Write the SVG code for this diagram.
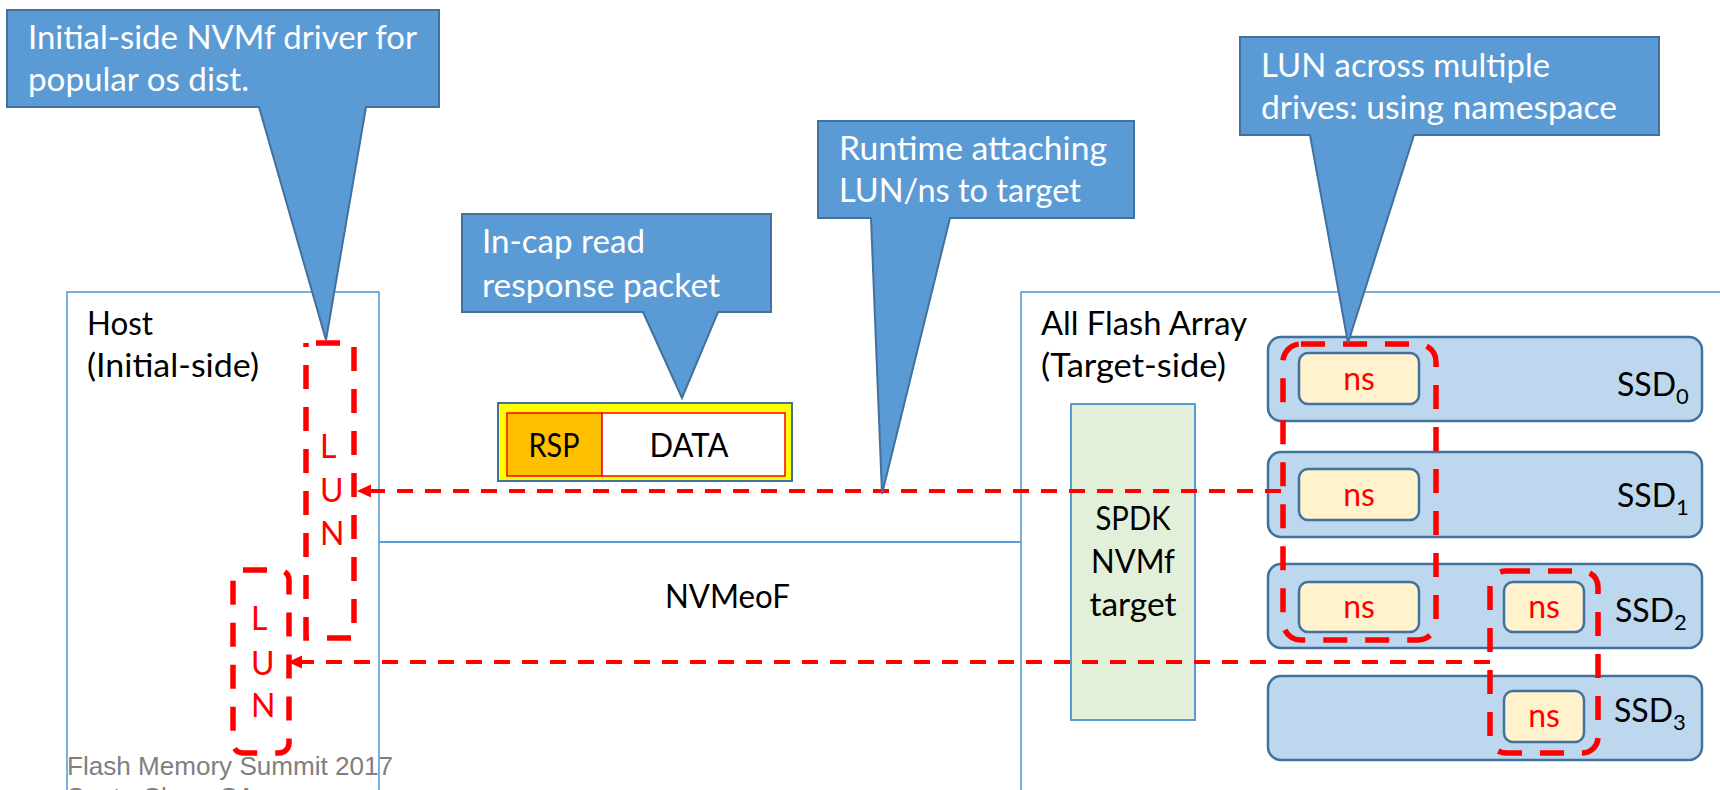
<svg xmlns="http://www.w3.org/2000/svg" width="1720" height="790" viewBox="0 0 1720 790">
  <style>
    text { font-family: "Lato", "Open Sans", sans-serif; font-size: 32px; }
    .call { fill: #5B9BD5; stroke: #41719C; stroke-width: 2; stroke-linejoin: miter; }
    .callt { fill: #FFFFFF; }
    .frame { fill: none; stroke: #5B9BD5; stroke-width: 1.6; }
    .lbl { fill: #000000; }
    .red { fill: #FF0000; }
    .ssd { fill: #BDD7EE; stroke: #41719C; stroke-width: 2.5; }
    .ns { fill: #FFF2CC; stroke: #41719C; stroke-width: 2.5; }
    .grp { fill: none; stroke: #FF0000; stroke-width: 5.5; stroke-dasharray: 24 18; }
    .conn { fill: none; stroke: #FF0000; stroke-width: 4; stroke-dasharray: 16 12; }
    .foot { font-family: "Liberation Sans", Arial, sans-serif; font-size: 26px; fill: #808080; }
    .mid { text-anchor: middle; }
  </style>
  <defs>
    <marker id="arrow" markerUnits="userSpaceOnUse" markerWidth="15" markerHeight="14" refX="14" refY="6.5" orient="auto">
      <path d="M0,0 L14,6.5 L0,13 Z" fill="#FF0000"/>
    </marker>
  </defs>

  <rect width="1720" height="790" fill="#FFFFFF"/>

  <!-- Host (initiator side) -->
  <g id="host">
    <rect class="frame" x="67" y="292" width="312" height="520"/>
    <text class="lbl" x="87" y="335" textLength="66" lengthAdjust="spacingAndGlyphs">Host</text>
    <text class="lbl" x="87" y="377" textLength="172" lengthAdjust="spacingAndGlyphs">(Initial-side)</text>
  </g>

  <!-- LUN exposed to the host -->
  <g id="lun-a">
    <rect class="grp" x="306" y="343" width="48" height="295" stroke-dashoffset="32"/>
    <text class="red" x="320" y="458">L</text>
    <text class="red" x="320" y="502">U</text>
    <text class="red" x="320" y="545">N</text>
  </g>
  <g id="lun-b">
    <rect class="grp" x="233" y="570" width="56" height="183" rx="10"/>
    <text class="red" x="251" y="630">L</text>
    <text class="red" x="251" y="675">U</text>
    <text class="red" x="251" y="717">N</text>
  </g>

  <!-- Fabric -->
  <g id="fabric">
    <line x1="379" y1="542" x2="1021" y2="542" stroke="#5B9BD5" stroke-width="2"/>
    <text class="lbl" x="665" y="608" textLength="125" lengthAdjust="spacingAndGlyphs">NVMeoF</text>
  </g>

  <!-- Read response capsule -->
  <g id="packet">
    <rect x="498" y="403" width="294" height="78" fill="#FFFF00" stroke="#41719C" stroke-width="2"/>
    <rect x="507" y="413" width="95" height="63" fill="#FFC000" stroke="#FF0000" stroke-width="1.5"/>
    <rect x="602" y="413" width="183" height="63" fill="#FFFFFF" stroke="#FF0000" stroke-width="1.5"/>
    <text class="lbl mid" x="554" y="457" textLength="51" lengthAdjust="spacingAndGlyphs">RSP</text>
    <text class="lbl mid" x="689" y="457" textLength="79" lengthAdjust="spacingAndGlyphs">DATA</text>
  </g>

  <!-- All Flash Array (target side) -->
  <g id="afa">
    <rect class="frame" x="1021" y="292" width="720" height="520"/>
    <text class="lbl" x="1041" y="335" textLength="206" lengthAdjust="spacingAndGlyphs">All Flash Array</text>
    <text class="lbl" x="1041" y="377" textLength="185" lengthAdjust="spacingAndGlyphs">(Target-side)</text>
  </g>

  <g id="spdk">
    <rect x="1071" y="404" width="124" height="316" fill="#E2F0D9" stroke="#5B9BD5" stroke-width="2"/>
    <text class="lbl mid" x="1133" y="530" textLength="75" lengthAdjust="spacingAndGlyphs">SPDK</text>
    <text class="lbl mid" x="1133" y="573" textLength="84" lengthAdjust="spacingAndGlyphs">NVMf</text>
    <text class="lbl mid" x="1133" y="616" textLength="87" lengthAdjust="spacingAndGlyphs">target</text>
  </g>

  <g id="ssd0">
    <rect class="ssd" x="1268" y="337" width="434" height="84" rx="13"/>
    <rect class="ns" x="1299" y="353" width="120" height="51" rx="9"/>
    <text class="red mid" x="1359" y="390">ns</text>
    <text class="lbl" x="1617" y="396">SSD<tspan font-size="22" dy="8">0</tspan></text>
  </g>
  <g id="ssd1">
    <rect class="ssd" x="1268" y="452" width="434" height="85" rx="13"/>
    <rect class="ns" x="1299" y="469" width="120" height="51" rx="9"/>
    <text class="red mid" x="1359" y="506">ns</text>
    <text class="lbl" x="1617" y="507">SSD<tspan font-size="22" dy="8">1</tspan></text>
  </g>
  <g id="ssd2">
    <rect class="ssd" x="1268" y="564" width="434" height="84" rx="13"/>
    <rect class="ns" x="1299" y="582" width="120" height="50" rx="9"/>
    <text class="red mid" x="1359" y="618">ns</text>
    <rect class="ns" x="1504" y="582" width="80" height="50" rx="9"/>
    <text class="red mid" x="1544" y="618">ns</text>
    <text class="lbl" x="1615" y="622">SSD<tspan font-size="22" dy="8">2</tspan></text>
  </g>
  <g id="ssd3">
    <rect class="ssd" x="1268" y="676" width="434" height="84" rx="13"/>
    <rect class="ns" x="1504" y="691" width="80" height="51" rx="9"/>
    <text class="red mid" x="1544" y="727">ns</text>
    <text class="lbl" x="1614" y="722">SSD<tspan font-size="22" dy="8">3</tspan></text>
  </g>

  <!-- Namespace groups forming each LUN -->
  <g id="ns-group-a">
    <rect class="grp" x="1283" y="344" width="153" height="296" rx="18"/>
  </g>
  <g id="ns-group-b">
    <rect class="grp" x="1490" y="571" width="108" height="182" rx="16"/>
  </g>

  <!-- Attachments from target namespaces to host LUNs -->
  <g id="connectors">
    <path class="conn" d="M1281,491 H357" marker-end="url(#arrow)"/>
    <path class="conn" d="M1490,662 H288" marker-end="url(#arrow)"/>
  </g>

  <!-- Callouts -->
  <g id="callout-driver">
    <path class="call" d="M7,10 H439 V107 H366 L326,340 L259,107 H7 Z"/>
    <text class="callt" x="28" y="49" textLength="389" lengthAdjust="spacingAndGlyphs">Initial-side NVMf driver for</text>
    <text class="callt" x="28" y="91" textLength="221" lengthAdjust="spacingAndGlyphs">popular os dist.</text>
  </g>
  <g id="callout-packet">
    <path class="call" d="M462,214 H771 V312 H718 L682,398 L643,312 H462 Z"/>
    <text class="callt" x="482" y="253" textLength="163" lengthAdjust="spacingAndGlyphs">In-cap read</text>
    <text class="callt" x="482" y="297" textLength="238" lengthAdjust="spacingAndGlyphs">response packet</text>
  </g>
  <g id="callout-runtime">
    <path class="call" d="M818,121 H1134 V218 H950 L882,494 L871,218 H818 Z"/>
    <text class="callt" x="839" y="160" textLength="268" lengthAdjust="spacingAndGlyphs">Runtime attaching</text>
    <text class="callt" x="839" y="202" textLength="242" lengthAdjust="spacingAndGlyphs">LUN/ns to target</text>
  </g>
  <g id="callout-namespace">
    <path class="call" d="M1240,37 H1659 V135 H1414 L1348,343 L1310,135 H1240 Z"/>
    <text class="callt" x="1261" y="77" textLength="289" lengthAdjust="spacingAndGlyphs">LUN across multiple</text>
    <text class="callt" x="1261" y="119" textLength="356" lengthAdjust="spacingAndGlyphs">drives: using namespace</text>
  </g>

  <!-- Footer -->
  <text class="foot" x="67" y="775" textLength="326" lengthAdjust="spacingAndGlyphs">Flash Memory Summit 2017</text>
  <text class="foot" x="67" y="806">Santa Clara, CA</text>
</svg>
